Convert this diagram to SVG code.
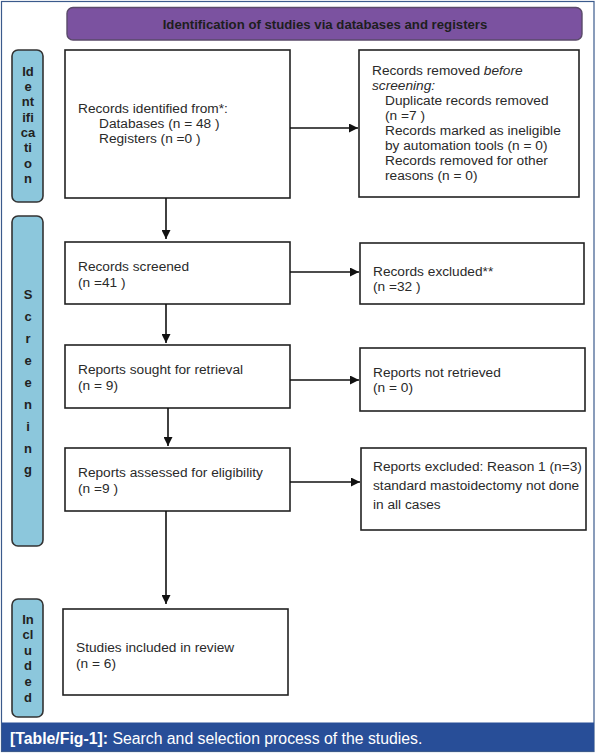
<svg xmlns="http://www.w3.org/2000/svg" width="597" height="756" viewBox="0 0 597 756">
<defs>
<marker id="ah" viewBox="0 0 10 10" refX="10" refY="5" markerWidth="9" markerHeight="9" markerUnits="userSpaceOnUse" orient="auto">
<path d="M0,0 L10,5 L0,10 Z" fill="#111"/>
</marker>
<style>
.box{fill:#fff;stroke:#222;stroke-width:1.6}
.side{fill:#8cc7dc;stroke:#333;stroke-width:1.6}
.t{font-family:"Liberation Sans",Arial,sans-serif;font-size:13.7px;fill:#2a2a2a}
.s{font-family:"Liberation Sans",Arial,sans-serif;font-size:13px;font-weight:bold;fill:#222;text-anchor:middle}
.c{stroke:#111;stroke-width:1.6;fill:none;marker-end:url(#ah)}
</style>
</defs>
<rect x="0" y="0" width="597" height="756" fill="#fff"/>
<rect x="1.5" y="1.5" width="592.5" height="750" fill="none" stroke="#3b5a8c" stroke-width="1.2"/>

<g id="header">
<rect x="67" y="7.5" width="515" height="32.5" rx="6" fill="#7b52a0" stroke="#5a4a6a" stroke-width="1.4"/>
<text x="325" y="28.5" font-family="Liberation Sans,Arial,sans-serif" font-size="13.2px" font-weight="bold" fill="#1e1e1e" text-anchor="middle">Identification of studies via databases and registers</text>
</g>

<g id="label-identification">
<rect class="side" x="12" y="50" width="31" height="152" rx="6"/>
<text class="s"><tspan x="28" y="76">Id</tspan><tspan x="28" y="91">e</tspan><tspan x="28" y="106">nt</tspan><tspan x="28" y="122">ifi</tspan><tspan x="28" y="137">ca</tspan><tspan x="28" y="152">ti</tspan><tspan x="28" y="168">o</tspan><tspan x="28" y="183">n</tspan></text>
</g>

<g id="label-screening">
<rect class="side" x="12" y="216" width="31" height="330" rx="6"/>
<text class="s"><tspan x="28" y="299">S</tspan><tspan x="28" y="321">c</tspan><tspan x="28" y="343">r</tspan><tspan x="28" y="365">e</tspan><tspan x="28" y="387">e</tspan><tspan x="28" y="409">n</tspan><tspan x="28" y="431">i</tspan><tspan x="28" y="453">n</tspan><tspan x="28" y="474">g</tspan></text>
</g>

<g id="label-included">
<rect class="side" x="12" y="599" width="31" height="118" rx="6"/>
<text class="s"><tspan x="28" y="624">In</tspan><tspan x="28" y="639">cl</tspan><tspan x="28" y="655">u</tspan><tspan x="28" y="670">d</tspan><tspan x="28" y="686">e</tspan><tspan x="28" y="702">d</tspan></text>
</g>

<g id="records-identified">
<rect class="box" x="65" y="50" width="225" height="148"/>
<text class="t"><tspan x="78" y="113">Records identified from*:</tspan><tspan x="99" y="128">Databases (n = 48 )</tspan><tspan x="99" y="143">Registers (n =0 )</tspan></text>
</g>

<g id="records-removed">
<rect class="box" x="359" y="50" width="220" height="147"/>
<text class="t"><tspan x="372" y="75">Records removed <tspan font-style="italic">before</tspan></tspan><tspan x="372" y="90" font-style="italic">screening:</tspan><tspan x="385" y="105">Duplicate records removed</tspan><tspan x="385" y="120">(n =7 )</tspan><tspan x="385" y="135">Records marked as ineligible</tspan><tspan x="385" y="150">by automation tools (n = 0)</tspan><tspan x="385" y="165">Records removed for other</tspan><tspan x="385" y="180">reasons (n = 0)</tspan></text>
</g>

<g id="records-screened">
<rect class="box" x="65" y="242" width="225" height="62"/>
<text class="t"><tspan x="78" y="271">Records screened</tspan><tspan x="78" y="287">(n =41 )</tspan></text>
</g>

<g id="records-excluded">
<rect class="box" x="360" y="243" width="224" height="61"/>
<text class="t"><tspan x="373" y="276">Records excluded**</tspan><tspan x="373" y="291">(n =32 )</tspan></text>
</g>

<g id="reports-sought">
<rect class="box" x="65" y="345" width="225" height="63"/>
<text class="t"><tspan x="78" y="374">Reports sought for retrieval</tspan><tspan x="78" y="390">(n = 9)</tspan></text>
</g>

<g id="reports-not-retrieved">
<rect class="box" x="360" y="348" width="225" height="63"/>
<text class="t"><tspan x="373" y="377">Reports not retrieved</tspan><tspan x="373" y="392">(n = 0)</tspan></text>
</g>

<g id="reports-assessed">
<rect class="box" x="65" y="448" width="225" height="63"/>
<text class="t"><tspan x="78" y="477">Reports assessed for eligibility</tspan><tspan x="78" y="493">(n =9 )</tspan></text>
</g>

<g id="reports-excluded">
<rect class="box" x="361" y="448" width="225" height="82"/>
<text class="t"><tspan x="373" y="471">Reports excluded: Reason 1 (n=3)</tspan><tspan x="373" y="490">standard mastoidectomy not done</tspan><tspan x="373" y="509">in all cases</tspan></text>
</g>

<g id="studies-included">
<rect class="box" x="63" y="609" width="225" height="86"/>
<text class="t"><tspan x="76" y="652">Studies included in review</tspan><tspan x="76" y="668">(n = 6)</tspan></text>
</g>

<g id="connectors">
<line class="c" x1="166" y1="198" x2="166" y2="239"/>
<line class="c" x1="166" y1="304" x2="166" y2="343"/>
<line class="c" x1="168" y1="408" x2="168" y2="446"/>
<line class="c" x1="166" y1="511" x2="166" y2="604"/>
<line class="c" x1="290" y1="128" x2="358" y2="128"/>
<line class="c" x1="290" y1="272" x2="359" y2="272"/>
<line class="c" x1="290" y1="380" x2="359" y2="380"/>
<line class="c" x1="290" y1="482" x2="360" y2="482"/>
</g>

<g id="caption">
<rect x="2" y="722.5" width="592" height="28.5" fill="#284e98"/>
<text x="10" y="743.5" font-family="Liberation Sans,Arial,sans-serif" font-size="15.8px" fill="#fff"><tspan font-weight="bold">[Table/Fig-1]:</tspan> Search and selection process of the studies.</text>
</g>
</svg>
